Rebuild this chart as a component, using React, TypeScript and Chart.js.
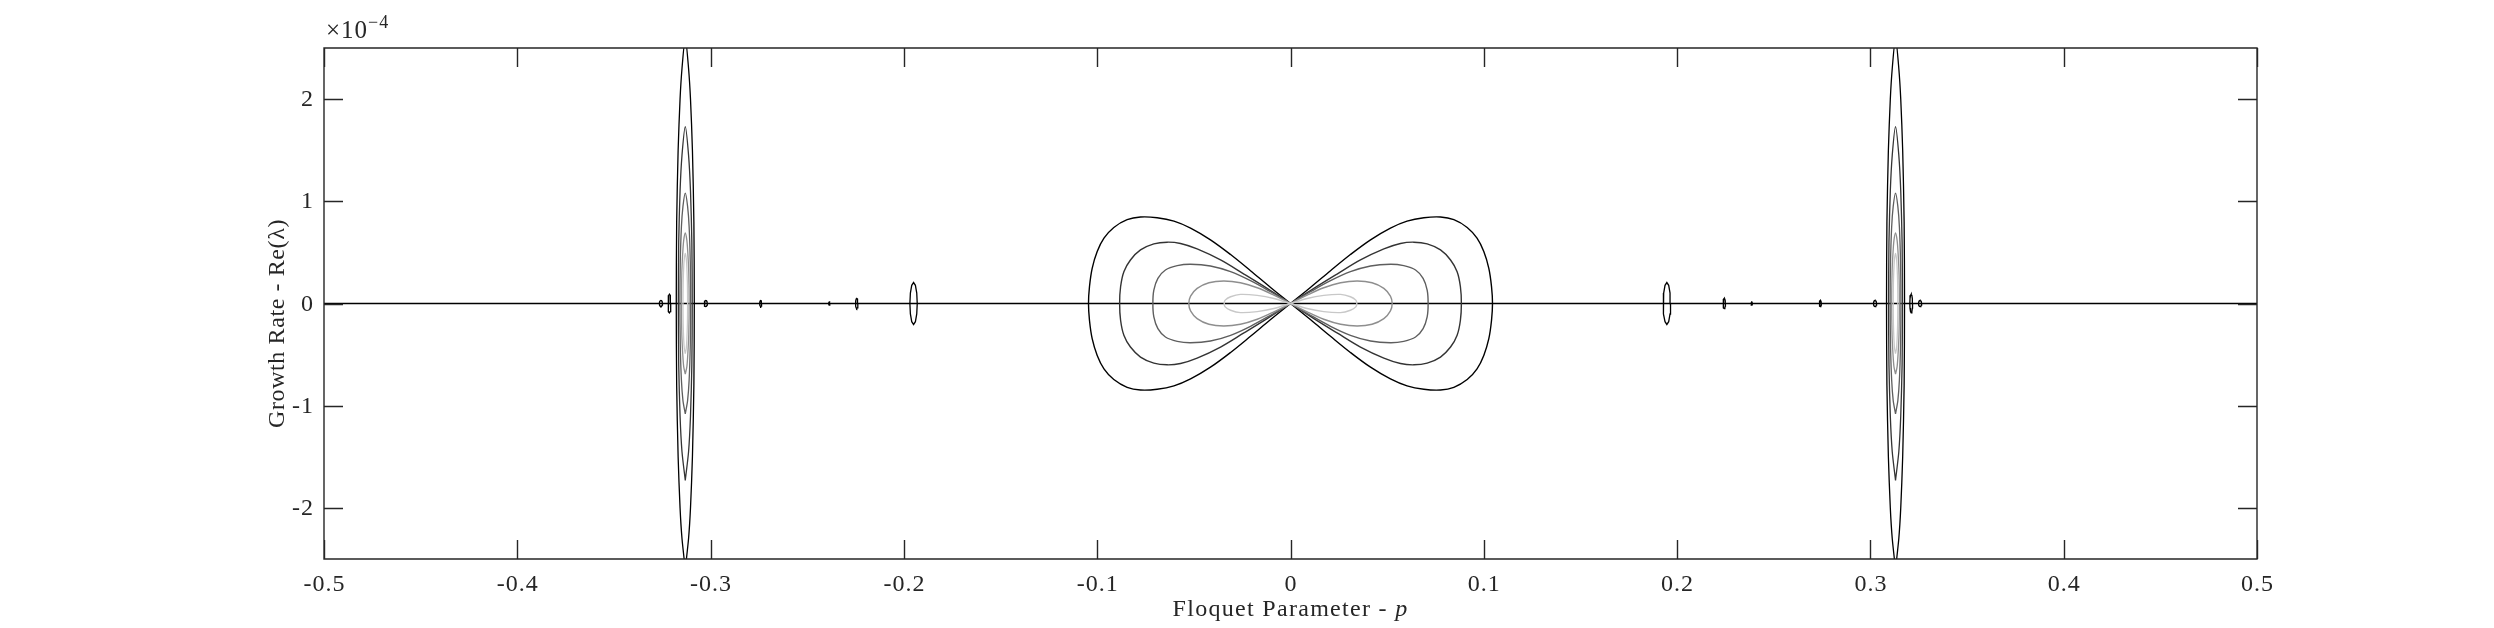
import React, { useEffect, useRef } from "react";
import { Chart, registerables } from "chart.js";

Chart.register(...registerables);

// ---------- axes ----------
const X_MIN = -0.5;
const X_MAX = 0.5;
const Y_MIN = -2.5;
const Y_MAX = 2.5;
const X_TICKS = [-0.5, -0.4, -0.3, -0.2, -0.1, 0, 0.1, 0.2, 0.3, 0.4, 0.5];
const X_TICK_LABELS = ["-0.5", "-0.4", "-0.3", "-0.2", "-0.1", "0", "0.1", "0.2", "0.3", "0.4", "0.5"];
const Y_TICKS = [-2, -1, 0, 1, 2];
const Y_TICK_LABELS = ["-2", "-1", "0", "1", "2"];
const Y_EXP_BASE = "\u00d710";
const Y_EXP_POWER = "\u22124";
const X_TITLE = "Floquet Parameter - ";
const X_TITLE_VAR = "p";
const Y_TITLE = "Growth Rate - Re(\u03bb)";

// ---------- level colours (outer -> inner) ----------
const LEVEL_COLORS = ["#000000", "#333333", "#5e5e5e", "#8e8e8e", "#c8c8c8"];

// ---------- figure-eight loops: upper-right quarter (p, Re(lambda) x1e-4) ----------
const LOOP1_P = [0, 0.0103, 0.0207, 0.031, 0.0414, 0.0517, 0.0603, 0.069, 0.0776, 0.0845, 0.0914, 0.0965, 0.1, 0.1026, 0.104, 0.1045];
const LOOP1_G = [0, 0.157, 0.321, 0.479, 0.623, 0.738, 0.806, 0.839, 0.846, 0.82, 0.744, 0.639, 0.508, 0.344, 0.164, 0];
const LOOP2_P = [0, 0.0121, 0.0241, 0.0362, 0.0483, 0.0569, 0.0638, 0.0707, 0.0776, 0.0828, 0.0862, 0.0879, 0.0884];
const LOOP2_G = [0, 0.148, 0.288, 0.426, 0.534, 0.587, 0.6, 0.583, 0.524, 0.426, 0.311, 0.164, 0];
const LOOP3_P = [0, 0.0103, 0.0207, 0.031, 0.0414, 0.0517, 0.0586, 0.0647, 0.0686, 0.0707, 0.0712];
const LOOP3_G = [0, 0.115, 0.223, 0.311, 0.367, 0.384, 0.37, 0.328, 0.246, 0.131, 0];
const LOOP4_P = [0, 0.0086, 0.0172, 0.0259, 0.0345, 0.0422, 0.0483, 0.0517, 0.0526];
const LOOP4_G = [0, 0.082, 0.154, 0.203, 0.22, 0.203, 0.148, 0.072, 0];
const LOOP5_P = [0, 0.0086, 0.0172, 0.0259, 0.031, 0.0338, 0.0343];
const LOOP5_G = [0, 0.049, 0.079, 0.089, 0.066, 0.033, 0];

// ---------- tall spindles near p = +-0.313: half-width / half-height from the middle ----------
const SPINDLE_CENTERS = [-0.3131, 0.313];
const SPINDLE1_DX = [0.00466, 0.00445, 0.0037, 0.0027, 0.0017, 0];
const SPINDLE1_DY = [0, 0.8, 1.5, 2.0, 2.3, 2.6];
const SPINDLE2_DX = [0.0036, 0.0034, 0.0027, 0.0017, 0];
const SPINDLE2_DY = [0, 0.6, 1.1, 1.45, 1.73];
const SPINDLE3_DX = [0.0028, 0.0026, 0.002, 0.0012, 0];
const SPINDLE3_DY = [0, 0.4, 0.75, 0.95, 1.08];
const SPINDLE4_DX = [0.002, 0.0018, 0.0013, 0.0008, 0];
const SPINDLE4_DY = [0, 0.3, 0.5, 0.62, 0.69];
const SPINDLE5_DX = [0.0012, 0.0011, 0.0008, 0.0005, 0];
const SPINDLE5_DY = [0, 0.2, 0.36, 0.44, 0.49];

// ---------- small closed curves on the axis ----------
const SMALL_P = [-0.3257, -0.3213, -0.3025, -0.2741, -0.2386, -0.2244, -0.1950, 0.1947, 0.2244, 0.2386, 0.2741, 0.3024, 0.3211, 0.3257];
const SMALL_H = [0.03, 0.092, 0.03, 0.03, 0.015, 0.05, 0.205, 0.205, 0.05, 0.015, 0.03, 0.03, 0.092, 0.03];
const SMALL_W = [0.0008, 0.0007, 0.0008, 0.0005, 0.0003, 0.0006, 0.0019, 0.0019, 0.0006, 0.0003, 0.0005, 0.0008, 0.0007, 0.0008];
const ELLIPSE_ANGLES = [0, 30, 60, 90, 120, 150, 180, 210, 240, 270, 300, 330, 360];

// ---------- zero line ----------
const ZERO_P = [-0.5, 0.5];
const ZERO_G = [0, 0];

type Pt = { x: number; y: number };

function loopPath(P: number[], G: number[]): Pt[] {
  const n = P.length;
  const pts: Pt[] = [];
  for (let i = 0; i < n; i++) pts.push({ x: P[i], y: G[i] });
  for (let i = n - 2; i >= 0; i--) pts.push({ x: P[i], y: -G[i] });
  for (let i = 1; i < n; i++) pts.push({ x: -P[i], y: G[i] });
  for (let i = n - 2; i >= 0; i--) pts.push({ x: -P[i], y: -G[i] });
  return pts;
}

function spindlePath(c: number, DX: number[], DY: number[]): Pt[] {
  const n = DX.length;
  const pts: Pt[] = [];
  for (let i = n - 1; i >= 0; i--) pts.push({ x: c + DX[i], y: -DY[i] });
  for (let i = 1; i < n; i++) pts.push({ x: c + DX[i], y: DY[i] });
  for (let i = n - 2; i >= 0; i--) pts.push({ x: c - DX[i], y: DY[i] });
  for (let i = 1; i < n; i++) pts.push({ x: c - DX[i], y: -DY[i] });
  return pts;
}

function ellipsePath(c: number, w: number, h: number): Pt[] {
  return ELLIPSE_ANGLES.map((a) => ({
    x: c + w * Math.cos((a * Math.PI) / 180),
    y: h * Math.sin((a * Math.PI) / 180),
  }));
}

const FONT = "'Liberation Serif', 'DejaVu Serif', serif";
const AXIS_COLOR = "#262626";

function spaced(ctx: any, s: string) {
  if ("letterSpacing" in ctx) ctx.letterSpacing = s;
}

const frame = {
  id: "matlabFrame",
  afterDraw(chart: any) {
    const { ctx, chartArea } = chart;
    const xs = chart.scales.x;
    const ys = chart.scales.y;
    const { left, right, top, bottom } = chartArea;
    const TL = 19;
    ctx.save();
    ctx.strokeStyle = AXIS_COLOR;
    ctx.lineWidth = 1.4;
    ctx.beginPath();
    ctx.rect(left, top, right - left, bottom - top);
    for (const v of X_TICKS) {
      const px = Math.round(xs.getPixelForValue(v)) + 0.5;
      ctx.moveTo(px, bottom);
      ctx.lineTo(px, bottom - TL);
      ctx.moveTo(px, top);
      ctx.lineTo(px, top + TL);
    }
    for (const v of Y_TICKS) {
      const py = Math.round(ys.getPixelForValue(v)) + 0.5;
      ctx.moveTo(left, py);
      ctx.lineTo(left + TL, py);
      ctx.moveTo(right, py);
      ctx.lineTo(right - TL, py);
    }
    ctx.stroke();

    ctx.fillStyle = AXIS_COLOR;
    ctx.font = `24px ${FONT}`;
    ctx.textBaseline = "alphabetic";
    spaced(ctx, "1px");
    ctx.textAlign = "left";
    X_TICKS.forEach((v, i) => {
      const w = ctx.measureText(X_TICK_LABELS[i]).width - 1;
      ctx.fillText(X_TICK_LABELS[i], xs.getPixelForValue(v) - w / 2, bottom + 32);
    });
    Y_TICKS.forEach((v, i) => {
      const w = ctx.measureText(Y_TICK_LABELS[i]).width - 1;
      ctx.fillText(Y_TICK_LABELS[i], left - 11 - w, ys.getPixelForValue(v) + 7);
    });

    // exponent label
    spaced(ctx, "1px");
    ctx.textAlign = "left";
    ctx.font = `25px ${FONT}`;
    ctx.fillText(Y_EXP_BASE, left + 2, top - 10);
    const wBase = ctx.measureText(Y_EXP_BASE).width;
    ctx.font = `18px ${FONT}`;
    ctx.fillText(Y_EXP_POWER, left + 2 + wBase, top - 20);

    // x title
    spaced(ctx, "1.3px");
    ctx.font = `24px ${FONT}`;
    const w1 = ctx.measureText(X_TITLE).width;
    ctx.font = `italic 24px ${FONT}`;
    const w2 = ctx.measureText(X_TITLE_VAR).width;
    const cx = (left + right) / 2;
    const sx = cx - (w1 + w2) / 2;
    ctx.font = `24px ${FONT}`;
    ctx.fillText(X_TITLE, sx, bottom + 57);
    ctx.font = `italic 24px ${FONT}`;
    ctx.fillText(X_TITLE_VAR, sx + w1, bottom + 57);

    // y title
    ctx.save();
    spaced(ctx, "0.6px");
    ctx.translate(left - 40, (top + bottom) / 2 + 20);
    ctx.rotate(-Math.PI / 2);
    ctx.font = `24px ${FONT}`;
    const wy = ctx.measureText(Y_TITLE).width;
    ctx.textAlign = "left";
    ctx.fillText(Y_TITLE, -wy / 2, 0);
    ctx.restore();
    ctx.restore();
  },
};

export default function App() {
  const ref = useRef<HTMLCanvasElement>(null);
  useEffect(() => {
    const base = { showLine: true, pointRadius: 0, pointHoverRadius: 0, fill: false };
    const datasets: any[] = [];
    const loops = [
      [LOOP1_P, LOOP1_G],
      [LOOP2_P, LOOP2_G],
      [LOOP3_P, LOOP3_G],
      [LOOP4_P, LOOP4_G],
      [LOOP5_P, LOOP5_G],
    ];
    const spindles = [
      [SPINDLE1_DX, SPINDLE1_DY],
      [SPINDLE2_DX, SPINDLE2_DY],
      [SPINDLE3_DX, SPINDLE3_DY],
      [SPINDLE4_DX, SPINDLE4_DY],
      [SPINDLE5_DX, SPINDLE5_DY],
    ];
    for (let L = 4; L >= 0; L--) {
      datasets.push({
        ...base,
        label: `loop ${L + 1}`,
        data: loopPath(loops[L][0], loops[L][1]),
        borderColor: LEVEL_COLORS[L],
        borderWidth: 1.4,
        tension: 0.35,
      });
      for (const c of SPINDLE_CENTERS) {
        datasets.push({
          ...base,
          label: `spindle ${L + 1}`,
          data: spindlePath(c, spindles[L][0], spindles[L][1]),
          borderColor: LEVEL_COLORS[L],
          borderWidth: 1.3,
          tension: 0.25,
        });
      }
    }
    SMALL_P.forEach((c, i) => {
      datasets.push({
        ...base,
        label: `small ${i}`,
        data: ellipsePath(c, SMALL_W[i], SMALL_H[i]),
        borderColor: "#000000",
        borderWidth: 1.3,
        tension: 0,
      });
    });
    datasets.push({
      ...base,
      label: "zero",
      data: ZERO_P.map((p, i) => ({ x: p, y: ZERO_G[i] })),
      borderColor: "#000000",
      borderWidth: 1.5,
      tension: 0,
    });

    const chart = new Chart(ref.current as HTMLCanvasElement, {
      type: "scatter",
      data: { datasets },
      options: {
        animation: false,
        responsive: false,
        devicePixelRatio: 1,
        events: [],
        layout: { padding: { left: 0, top: 48, right: 237, bottom: 0 } },
        plugins: { legend: { display: false }, tooltip: { enabled: false } },
        scales: {
          x: {
            type: "linear",
            min: X_MIN,
            max: X_MAX,
            grid: { display: false },
            border: { display: false },
            ticks: { display: false },
            afterFit: (s: any) => {
              s.height = 69;
            },
          },
          y: {
            type: "linear",
            min: Y_MIN,
            max: Y_MAX,
            grid: { display: false },
            border: { display: false },
            ticks: { display: false },
            afterFit: (s: any) => {
              s.width = 324;
            },
          },
        },
      } as any,
      plugins: [frame],
    });
    return () => chart.destroy();
  }, []);

  return (
    <div style={{ position: "fixed", left: 0, top: 0, width: 2494, height: 628, background: "#ffffff" }}>
      <canvas ref={ref} width={2494} height={628} style={{ display: "block", width: 2494, height: 628 }} />
    </div>
  );
}
